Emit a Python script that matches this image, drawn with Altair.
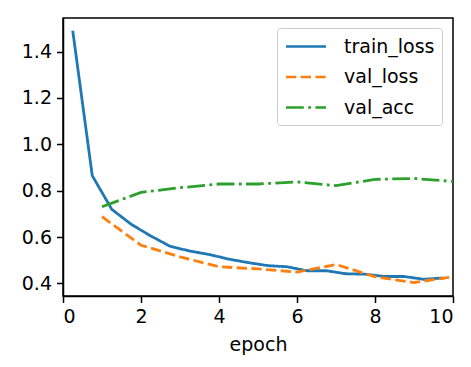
import altair as alt
import pandas as pd

series_names = ["train_loss", "val_loss", "val_acc"]
series_colors = ["#1f77b4", "#ff7f0e", "#2ca02c"]

train_epoch = [0.25, 0.75, 1.25, 1.75, 2.25, 2.75, 3.25, 3.75, 4.25, 4.75,
               5.25, 5.75, 6.25, 6.75, 7.25, 7.75, 8.25, 8.75, 9.25, 9.75]
train_loss = [1.49, 0.865, 0.72, 0.655, 0.605, 0.56, 0.54, 0.525, 0.505, 0.49,
              0.477, 0.472, 0.455, 0.455, 0.442, 0.44, 0.43, 0.43, 0.418, 0.424]

val_epoch = [1, 2, 3, 4, 5, 6, 7, 8, 9, 10]
val_loss = [0.688, 0.565, 0.515, 0.472, 0.463, 0.449, 0.482, 0.429, 0.404, 0.429]
val_acc = [0.731, 0.793, 0.813, 0.829, 0.829, 0.838, 0.822, 0.849, 0.853, 0.84]

x_ticks = [0, 2, 4, 6, 8, 10]
y_ticks = [0.4, 0.6, 0.8, 1.0, 1.2, 1.4]

rows = []
for e, v in zip(train_epoch, train_loss):
    rows.append({"epoch": e, "value": v, "series": "train_loss"})
for e, v in zip(val_epoch, val_loss):
    rows.append({"epoch": e, "value": v, "series": "val_loss"})
for e, v in zip(val_epoch, val_acc):
    rows.append({"epoch": e, "value": v, "series": "val_acc"})
df = pd.DataFrame(rows)

FONT = "DejaVu Sans"
FS = 19

legend = alt.Legend(title=None, orient="none", legendX=214, legendY=10,
                    labelExpr="datum.label + ' '")

chart = alt.Chart(df).mark_line(strokeWidth=2.8, clip=True).encode(
    x=alt.X("epoch:Q",
            scale=alt.Scale(domain=[0, 10], nice=False, zero=False),
            axis=alt.Axis(values=x_ticks, title="epoch", format="d")),
    y=alt.Y("value:Q",
            scale=alt.Scale(domain=[0.346, 1.545], nice=False, zero=False),
            axis=alt.Axis(values=y_ticks, title=None, format=".1f")),
    color=alt.Color("series:N",
                    scale=alt.Scale(domain=series_names, range=series_colors),
                    legend=legend),
    strokeDash=alt.StrokeDash("series:N",
                              scale=alt.Scale(domain=series_names,
                                              range=[[1, 0], [10.3, 4.4], [17.8, 4.4, 2.8, 4.4]]),
                              legend=legend),
    detail="series:N",
    order="epoch:Q",
).properties(
    width=390,
    height=278,
    background="white",
    autosize=alt.AutoSizeParams(type="none"),
    padding={"left": 55, "top": 10, "right": 10, "bottom": 63},
).configure_view(
    stroke="black", strokeWidth=1.5
).configure_axis(
    grid=False,
    domainColor="black", domainWidth=1.5,
    tickColor="black", tickWidth=1.5, tickSize=6.5,
    labelFont=FONT, labelFontSize=FS, labelColor="black",
    titleFont=FONT, titleFontSize=FS, titleColor="black", titleFontWeight="normal",
    labelPadding=5,
).configure_axisX(
    titlePadding=9,
).configure_axisY(
    labelPadding=5,
).configure_legend(
    labelFont=FONT, labelFontSize=FS, labelColor="black",
    symbolType="M-2,0H2", symbolSize=400, symbolStrokeWidth=2.6,
    symbolOffset=10.5, labelOffset=26.5,
    padding=7, rowPadding=8.5,
    fillColor="white", strokeColor="#cccccc", cornerRadius=3,
)

chart.save("out.html", embed_options={"renderer": "svg", "actions": False})
